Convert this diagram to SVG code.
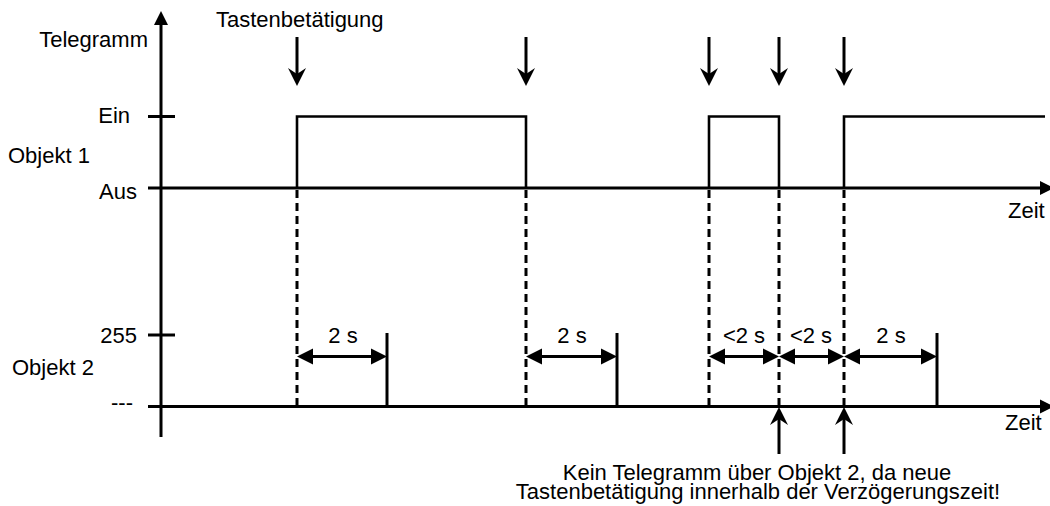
<svg xmlns="http://www.w3.org/2000/svg" width="1050" height="506" viewBox="0 0 1050 506">
<style>
text{font-family:"Liberation Sans",Arial,sans-serif;font-size:22px;fill:#000}
.ax{stroke:#000;stroke-width:3;fill:none}
.sig{stroke:#000;stroke-width:2.6;fill:none}
.dash{stroke:#000;stroke-width:3;stroke-dasharray:8 5;fill:none}
.arr{stroke:#000;stroke-width:3;fill:none}
.mid{text-anchor:middle}
.end{text-anchor:end}
</style>
<defs>
<marker id="chev" markerUnits="userSpaceOnUse" viewBox="0 -10 20 20" refX="6" refY="0" markerWidth="20" markerHeight="20" orient="auto">
<path d="M18,0 L0,-9 L6,0 L0,9 Z" fill="#000"/>
</marker>
<marker id="tri" markerUnits="userSpaceOnUse" viewBox="0 -9 17 18" refX="0" refY="0" markerWidth="17" markerHeight="18" orient="auto-start-reverse">
<path d="M16,0 L0,-8 L0,8 Z" fill="#000"/>
</marker>
<marker id="axh" markerUnits="userSpaceOnUse" viewBox="0 -8 15 16" refX="0" refY="0" markerWidth="15" markerHeight="16" orient="auto">
<path d="M14,0 L0,-7 L0,7 Z" fill="#000"/>
</marker>
</defs>

<g id="axes">
<line class="ax" x1="161" y1="437" x2="161" y2="25" marker-end="url(#axh)"/>
<line class="ax" x1="148" y1="188" x2="1040" y2="188" marker-end="url(#axh)"/>
<line class="ax" x1="148" y1="406.5" x2="1040" y2="406.5" marker-end="url(#axh)"/>
<line class="ax" x1="148" y1="116.5" x2="175" y2="116.5"/>
<line class="ax" x1="148" y1="335" x2="175" y2="335"/>
</g>

<g id="labels">
<text class="end" x="148" y="47">Telegramm</text>
<text class="end" x="130" y="123">Ein</text>
<text x="8" y="163">Objekt 1</text>
<text class="end" x="137" y="199">Aus</text>
<text class="end" x="137" y="343">255</text>
<text x="12" y="375">Objekt 2</text>
<text class="end" x="133" y="410">---</text>
<text x="1008" y="218">Zeit</text>
<text x="1005" y="430">Zeit</text>
<text x="216" y="27">Tastenbetätigung</text>
</g>

<g id="objekt1-signal">
<path class="sig" d="M297,188 V116.5 H526 V188"/>
<path class="sig" d="M709,188 V116.5 H779 V188"/>
<path class="sig" d="M844,188 V116.5 H1045"/>
</g>

<g id="connectors">
<line class="arr" x1="297" y1="37" x2="297" y2="74" marker-end="url(#chev)"/>
<line class="arr" x1="526" y1="37" x2="526" y2="74" marker-end="url(#chev)"/>
<line class="arr" x1="709" y1="37" x2="709" y2="74" marker-end="url(#chev)"/>
<line class="arr" x1="779" y1="37" x2="779" y2="74" marker-end="url(#chev)"/>
<line class="arr" x1="844" y1="37" x2="844" y2="74" marker-end="url(#chev)"/>

<line class="dash" x1="297" y1="190" x2="297" y2="406"/>
<line class="dash" x1="526" y1="190" x2="526" y2="406"/>
<line class="dash" x1="709" y1="190" x2="709" y2="406"/>
<line class="dash" x1="779" y1="190" x2="779" y2="406"/>
<line class="dash" x1="844" y1="190" x2="844" y2="406"/>

<line class="arr" x1="387" y1="333" x2="387" y2="406"/>
<line class="arr" x1="617" y1="333" x2="617" y2="406"/>
<line class="arr" x1="937" y1="333" x2="937" y2="406"/>

<line class="arr" x1="313" y1="356.5" x2="371" y2="356.5" marker-start="url(#tri)" marker-end="url(#tri)"/>
<line class="arr" x1="542" y1="356.5" x2="601" y2="356.5" marker-start="url(#tri)" marker-end="url(#tri)"/>
<line class="arr" x1="725" y1="356.5" x2="763" y2="356.5" marker-start="url(#tri)" marker-end="url(#tri)"/>
<line class="arr" x1="795" y1="356.5" x2="828" y2="356.5" marker-start="url(#tri)" marker-end="url(#tri)"/>
<line class="arr" x1="860" y1="356.5" x2="921" y2="356.5" marker-start="url(#tri)" marker-end="url(#tri)"/>

<line class="arr" x1="779" y1="454" x2="779" y2="419" marker-end="url(#chev)"/>
<line class="arr" x1="844" y1="454" x2="844" y2="419" marker-end="url(#chev)"/>
</g>

<g id="durations">
<text class="mid" x="343" y="343">2 s</text>
<text class="mid" x="572" y="343">2 s</text>
<text class="mid" x="744" y="343">&lt;2 s</text>
<text class="mid" x="811" y="343">&lt;2 s</text>
<text class="mid" x="891" y="343">2 s</text>
</g>

<g id="note">
<text class="mid" x="757" y="480">Kein Telegramm über Objekt 2, da neue</text>
<text class="mid" x="758" y="499">Tastenbetätigung innerhalb der Verzögerungszeit!</text>
</g>
</svg>
